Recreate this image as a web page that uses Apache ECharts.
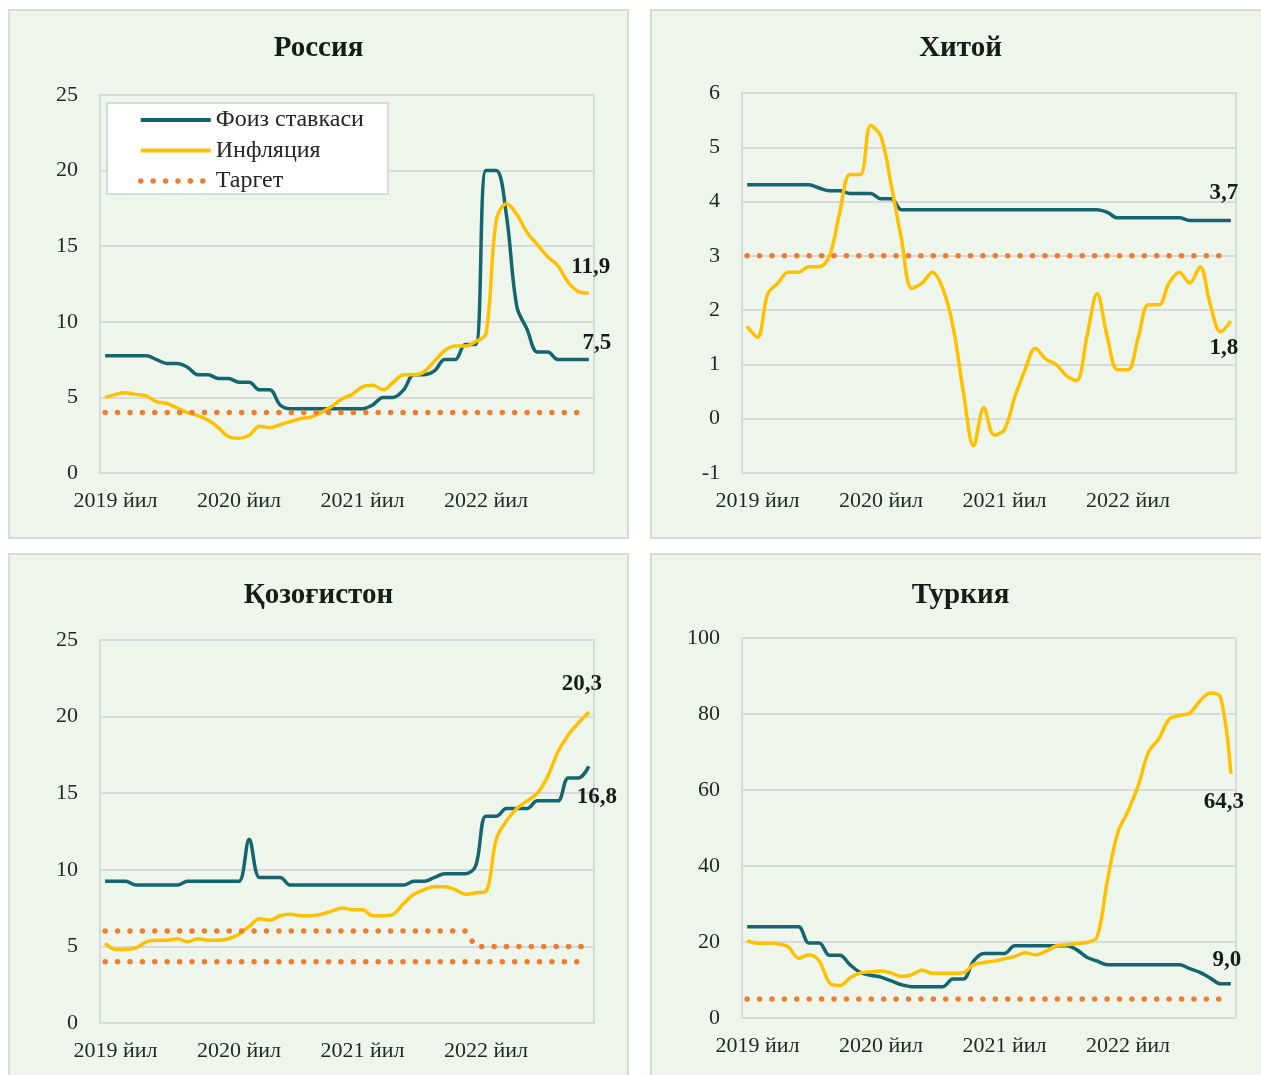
<!DOCTYPE html>
<html>
<head>
    <meta charset="UTF-8">
    <title>Фоиз ставкаси ва инфляция</title>
    <script src="https://cdn.jsdelivr.net/npm/echarts@6/dist/echarts.min.js"></script>
    <style>
        body, html {
            margin: 0;
            padding: 0;
            width: 1261px;
            height: 1075px;
            overflow: hidden;
            background: #fff;
        }

        .panel {
            position: absolute;
            box-sizing: border-box;
            width: 621px;
            border: 2px solid #d9d9d9;
            background: #eef5ea;
        }

        #ru { left: 8px; top: 9px; height: 530px; }
        #cn { left: 650px; top: 9px; height: 530px; }
        #kz { left: 8px; top: 553px; height: 540px; }
        #tr { left: 650px; top: 553px; height: 540px; }
    </style>
</head>
<body>
<div id="ru" class="panel"></div>
<div id="cn" class="panel"></div>
<div id="kz" class="panel"></div>
<div id="tr" class="panel"></div>
<script>
    // oylik ma'lumotlar: 2019 yanvar - 2022 dekabr
    var years = ['2019', '2020', '2021', '2022'];
    var yearLabels = ['2019 йил', '2020 йил', '2021 йил', '2022 йил'];
    var months = [];
    years.forEach(function (y) {
        for (var m = 1; m <= 12; m++) months.push(y + '-' + (m < 10 ? '0' + m : m));
    });

    // Россия
    var ruRate = [7.75, 7.75, 7.75, 7.75, 7.75, 7.5, 7.25, 7.25, 7.0, 6.5, 6.5, 6.25,
        6.25, 6.0, 6.0, 5.5, 5.5, 4.5, 4.25, 4.25, 4.25, 4.25, 4.25, 4.25,
        4.25, 4.25, 4.5, 5.0, 5.0, 5.5, 6.5, 6.5, 6.75, 7.5, 7.5, 8.5,
        8.5, 20, 20, 17, 11, 9.5, 8, 8, 7.5, 7.5, 7.5, 7.5];
    var ruInfl = [5.0, 5.2, 5.3, 5.2, 5.1, 4.7, 4.6, 4.3, 4.0, 3.8, 3.5, 3.0,
        2.4, 2.3, 2.5, 3.1, 3.0, 3.2, 3.4, 3.6, 3.7, 4.0, 4.4, 4.9,
        5.2, 5.7, 5.8, 5.5, 6.0, 6.5, 6.5, 6.7, 7.4, 8.1, 8.4, 8.4,
        8.7, 9.2, 16.7, 17.8, 17.1, 15.9, 15.1, 14.3, 13.7, 12.6, 12.0, 11.9];
    var ruTarget = [4, 4, 4, 4, 4, 4, 4, 4, 4, 4, 4, 4,
        4, 4, 4, 4, 4, 4, 4, 4, 4, 4, 4, 4,
        4, 4, 4, 4, 4, 4, 4, 4, 4, 4, 4, 4,
        4, 4, 4, 4, 4, 4, 4, 4, 4, 4, 4, 4];

    // Хитой
    var cnRate = [4.31, 4.31, 4.31, 4.31, 4.31, 4.31, 4.31, 4.25, 4.20, 4.20, 4.15, 4.15,
        4.15, 4.05, 4.05, 3.85, 3.85, 3.85, 3.85, 3.85, 3.85, 3.85, 3.85, 3.85,
        3.85, 3.85, 3.85, 3.85, 3.85, 3.85, 3.85, 3.85, 3.85, 3.85, 3.85, 3.80,
        3.70, 3.70, 3.70, 3.70, 3.70, 3.70, 3.70, 3.65, 3.65, 3.65, 3.65, 3.65];
    var cnInfl = [1.7, 1.5, 2.3, 2.5, 2.7, 2.7, 2.8, 2.8, 3.0, 3.8, 4.5, 4.5,
        5.4, 5.2, 4.3, 3.3, 2.4, 2.5, 2.7, 2.4, 1.7, 0.5, -0.5, 0.2,
        -0.3, -0.2, 0.4, 0.9, 1.3, 1.1, 1.0, 0.8, 0.7, 1.5, 2.3, 1.5,
        0.9, 0.9, 1.5, 2.1, 2.1, 2.5, 2.7, 2.5, 2.8, 2.1, 1.6, 1.8];
    var cnTarget = [3, 3, 3, 3, 3, 3, 3, 3, 3, 3, 3, 3,
        3, 3, 3, 3, 3, 3, 3, 3, 3, 3, 3, 3,
        3, 3, 3, 3, 3, 3, 3, 3, 3, 3, 3, 3,
        3, 3, 3, 3, 3, 3, 3, 3, 3, 3, 3, 3];

    // Қозоғистон
    var kzRate = [9.25, 9.25, 9.25, 9.0, 9.0, 9.0, 9.0, 9.0, 9.25, 9.25, 9.25, 9.25,
        9.25, 9.25, 12.0, 9.5, 9.5, 9.5, 9.0, 9.0, 9.0, 9.0, 9.0, 9.0,
        9.0, 9.0, 9.0, 9.0, 9.0, 9.0, 9.25, 9.25, 9.5, 9.75, 9.75, 9.75,
        10.25, 13.5, 13.5, 14.0, 14.0, 14.0, 14.5, 14.5, 14.5, 16.0, 16.0, 16.75];
    var kzInfl = [5.2, 4.8, 4.8, 4.9, 5.3, 5.4, 5.4, 5.5, 5.3, 5.5, 5.4, 5.4,
        5.5, 5.8, 6.3, 6.8, 6.7, 7.0, 7.1, 7.0, 7.0, 7.1, 7.3, 7.5,
        7.4, 7.4, 7.0, 7.0, 7.1, 7.8, 8.4, 8.7, 8.9, 8.9, 8.7, 8.4,
        8.5, 8.6, 12.0, 13.2, 14.0, 14.5, 15.0, 16.1, 17.7, 18.8, 19.6, 20.3];
    var kzTargetHigh = [6, 6, 6, 6, 6, 6, 6, 6, 6, 6, 6, 6,
        6, 6, 6, 6, 6, 6, 6, 6, 6, 6, 6, 6,
        6, 6, 6, 6, 6, 6, 6, 6, 6, 6, 6, 6,
        5, 5, 5, 5, 5, 5, 5, 5, 5, 5, 5, 5];
    var kzTargetLow = [4, 4, 4, 4, 4, 4, 4, 4, 4, 4, 4, 4,
        4, 4, 4, 4, 4, 4, 4, 4, 4, 4, 4, 4,
        4, 4, 4, 4, 4, 4, 4, 4, 4, 4, 4, 4,
        4, 4, 4, 4, 4, 4, 4, 4, 4, 4, 4, 4];

    // Туркия
    var trRate = [24, 24, 24, 24, 24, 24, 19.75, 19.75, 16.5, 16.5, 14, 12,
        11.25, 10.75, 9.75, 8.75, 8.25, 8.25, 8.25, 8.25, 10.25, 10.25, 15, 17,
        17, 17, 19, 19, 19, 19, 19, 19, 18, 16, 15, 14,
        14, 14, 14, 14, 14, 14, 14, 13, 12, 10.5, 9, 9];
    var trInfl = [20.35, 19.67, 19.71, 19.5, 18.71, 15.72, 16.65, 15.01, 9.26, 8.55, 10.56, 11.84,
        12.15, 12.37, 11.86, 10.94, 11.39, 12.62, 11.76, 11.77, 11.75, 11.89, 14.03, 14.6,
        14.97, 15.61, 16.19, 17.14, 16.59, 17.53, 18.95, 19.25, 19.58, 19.89, 21.31, 36.08,
        48.69, 54.44, 61.14, 69.97, 73.5, 78.62, 79.6, 80.21, 83.45, 85.51, 84.39, 64.27];
    var trTarget = [5, 5, 5, 5, 5, 5, 5, 5, 5, 5, 5, 5,
        5, 5, 5, 5, 5, 5, 5, 5, 5, 5, 5, 5,
        5, 5, 5, 5, 5, 5, 5, 5, 5, 5, 5, 5,
        5, 5, 5, 5, 5, 5, 5, 5, 5, 5, 5, 5];

    var FONT = '"Liberation Serif", "Times New Roman", serif';
    var TEAL = '#14656f';
    var YELLOW = '#ffc000';
    var ORANGE = '#ed7d31';
    var GRIDC = '#d9d9d9';

    function fmtValue(p) {
        return (Math.round(p.value * 10 + 1e-6) / 10).toFixed(1).replace('.', ',');
    }

    // faqat oxirgi nuqtaga yozuv qo'yiladi
    function withEndLabel(values, offset) {
        return values.map(function (v, i) {
            if (i < values.length - 1) return v;
            return {
                value: v,
                symbol: 'circle',
                symbolSize: 0,
                label: {
                    show: true, position: 'inside', offset: offset, formatter: fmtValue,
                    fontFamily: FONT, fontWeight: 'bold', fontSize: 23, color: '#1a1a1a'
                }
            };
        });
    }

    function lineSeries(name, values, color, offset) {
        return {
            name: name,
            type: 'line',
            data: withEndLabel(values, offset),
            symbol: 'none',
            showAllSymbol: true,
            smooth: 0.35,
            lineStyle: {color: color, width: 3.5},
            itemStyle: {color: color},
            emphasis: {disabled: true},
            z: 3
        };
    }

    function targetSeries(values) {
        return {
            name: 'Таргет',
            type: 'line',
            data: values,
            symbol: 'none',
            lineStyle: {color: ORANGE, width: 5.5, type: [0.01, 12.4], cap: 'round'},
            itemStyle: {color: ORANGE},
            emphasis: {disabled: true},
            z: 4
        };
    }

    function panelOption(title, titleTop, gridTop, gridHeight, yMin, yMax, yStep, series) {
        return {
            animation: false,
            title: {
                text: title, left: 'center', top: titleTop, padding: 0,
                textStyle: {fontFamily: FONT, fontWeight: 'bold', fontSize: 29, color: '#1a1a1a'}
            },
            grid: {
                left: 90, top: gridTop, width: 494, height: gridHeight,
                show: true, borderColor: GRIDC, borderWidth: 2, backgroundColor: 'transparent'
            },
            xAxis: {
                type: 'category',
                data: months,
                boundaryGap: true,
                axisTick: {show: false},
                axisLine: {show: false},
                axisLabel: {
                    interval: function (i) { return i % 12 === 1; },
                    formatter: function (v, i) { return yearLabels[Math.floor(i / 12)]; },
                    margin: 17,
                    fontFamily: FONT, fontSize: 22, color: '#262626'
                }
            },
            yAxis: {
                type: 'value',
                min: yMin, max: yMax, interval: yStep,
                axisLine: {show: false},
                axisTick: {show: false},
                splitLine: {lineStyle: {color: GRIDC, width: 2}},
                axisLabel: {margin: 22, fontFamily: FONT, fontSize: 22, color: '#262626'}
            },
            series: series
        };
    }

    var ruChart = echarts.init(document.getElementById('ru'), null, {renderer: 'canvas'});
    var cnChart = echarts.init(document.getElementById('cn'), null, {renderer: 'canvas'});
    var kzChart = echarts.init(document.getElementById('kz'), null, {renderer: 'canvas'});
    var trChart = echarts.init(document.getElementById('tr'), null, {renderer: 'canvas'});

    var ruOption = panelOption('Россия', 23, 84, 378, 0, 25, 5, [
        lineSeries('Фоиз ставкаси', ruRate, TEAL, [8, -17]),
        lineSeries('Инфляция', ruInfl, YELLOW, [2, -26]),
        targetSeries(ruTarget)
    ]);
    ruOption.legend = {
        orient: 'vertical',
        left: 97,
        top: 92,
        padding: [5, 24, 1, 31],
        backgroundColor: '#ffffff',
        borderColor: GRIDC,
        borderWidth: 2,
        itemWidth: 70,
        itemHeight: 22,
        itemGap: 6.5,
        selectedMode: false,
        itemStyle: {opacity: 0},
        lineStyle: {width: 4},
        textStyle: {fontFamily: FONT, fontSize: 24, lineHeight: 22, color: '#262626'},
        data: ['Фоиз ставкаси', 'Инфляция', {name: 'Таргет', lineStyle: {width: 5.5}}]
    };
    ruChart.setOption(ruOption);

    cnChart.setOption(panelOption('Хитой', 23, 82, 380, -1, 6, 1, [
        lineSeries('Фоиз ставкаси', cnRate, TEAL, [-7, -28]),
        lineSeries('Инфляция', cnInfl, YELLOW, [-7, 27]),
        targetSeries(cnTarget)
    ]));

    kzChart.setOption(panelOption('Қозоғистон', 26, 85, 383, 0, 25, 5, [
        lineSeries('Фоиз ставкаси', kzRate, TEAL, [8, 31]),
        lineSeries('Инфляция', kzInfl, YELLOW, [-7, -28]),
        targetSeries(kzTargetHigh),
        targetSeries(kzTargetLow)
    ]));

    trChart.setOption(panelOption('Туркия', 26, 83, 380, 0, 100, 20, [
        lineSeries('Фоиз ставкаси', trRate, TEAL, [-4, -24]),
        lineSeries('Инфляция', trInfl, YELLOW, [-7, 28]),
        targetSeries(trTarget)
    ]));
</script>
</body>
</html>
